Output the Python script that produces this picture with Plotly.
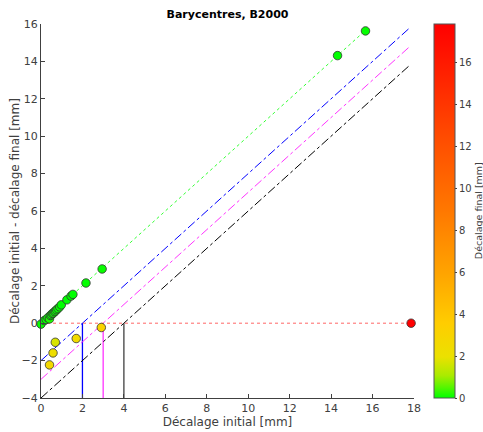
import numpy as np
import plotly.graph_objects as go

# Data
decalage_initial = [0.00, 0.16, 0.25, 0.33, 0.41, 0.45, 0.50, 0.55, 0.60, 0.65, 0.70,
                    0.75, 0.82, 0.90, 0.98, 1.25, 1.45, 1.54, 2.17, 2.95, 14.31, 15.66,
                    0.69, 1.70, 0.58, 0.41, 2.91, 17.86]
decalage_final = [0.05, 0.02, 0.05, 0.04, 0.18, 0.04, 0.05, 0.03, 0.06, 0.04, 0.05,
                  0.03, 0.04, 0.03, 0.00, 0.00, 0.00, 0.00, 0.02, 0.05, 0.00, 0.03,
                  1.71, 2.52, 2.17, 2.64, 3.14, 17.86]
seuils = [2, 3, 4]
seuil_couleurs = ["#0000ff", "#ff33ff", "#404040"]
x_max_lignes = 17.8
x_ticks = [0, 2, 4, 6, 8, 10, 12, 14, 16, 18]
y_ticks = [-4, -2, 0, 2, 4, 6, 8, 10, 12, 14, 16]
cb_ticks = [0, 2, 4, 6, 8, 10, 12, 14, 16]

xi = np.array(decalage_initial)
xf = np.array(decalage_final)
diff = xi - xf
cmax = float(xf.max())

colorscale = [
    [0.0, "rgb(0,255,0)"],
    [0.03, "rgb(90,245,0)"],
    [0.06, "rgb(170,235,0)"],
    [0.11, "rgb(235,225,0)"],
    [0.2, "rgb(255,205,0)"],
    [0.33, "rgb(255,165,0)"],
    [0.5, "rgb(255,120,0)"],
    [0.7, "rgb(255,75,0)"],
    [1.0, "rgb(255,0,0)"],
]

fig = go.Figure()

green_max = float(xi[xf < 0.5].max())
fig.add_trace(go.Scatter(x=[0, green_max], y=[0, green_max], mode="lines",
                         line=dict(color="#33ff33", dash="dot", width=1), showlegend=False, hoverinfo="skip"))
for s, c in zip(seuils, seuil_couleurs):
    col = "#000000" if s == 4 else c
    fig.add_trace(go.Scatter(x=[0, x_max_lignes], y=[-s, x_max_lignes - s], mode="lines",
                             line=dict(color=col, dash="dashdot", width=1), showlegend=False, hoverinfo="skip"))
    fig.add_trace(go.Scatter(x=[s, s], y=[-4, 0], mode="lines",
                             line=dict(color=c, width=1.3), showlegend=False, hoverinfo="skip"))

fig.add_trace(go.Scatter(x=[0, cmax], y=[0, 0], mode="lines",
                         line=dict(color="#ff6666", dash="dot", width=1), showlegend=False, hoverinfo="skip"))

fig.add_trace(go.Scatter(
    x=xi, y=diff, mode="markers", showlegend=False, cliponaxis=False,
    marker=dict(size=8.5, color=xf, cmin=0, cmax=cmax, colorscale=colorscale,
                line=dict(color="#333333", width=0.8),
                showscale=True,
                colorbar=dict(
                    x=1.0536, xanchor="left", xref="paper", xpad=0, ypad=0,
                    y=0.5, yanchor="middle", len=1.0, lenmode="fraction",
                    thickness=21, thicknessmode="pixels",
                    outlinewidth=1, outlinecolor="#555555",
                    tickvals=cb_ticks, ticks="outside", ticklen=2, tickcolor="#404040",
                    tickfont=dict(family="DejaVu Sans", size=10, color="#404040"),
                ))))

axis_common = dict(showgrid=False, zeroline=False, showline=True, linecolor="#404040", linewidth=1,
                   ticks="inside", ticklen=4, tickcolor="#404040", automargin=False,
                   tickfont=dict(family="DejaVu Sans", size=11, color="#404040"))

fig.update_layout(
    width=483, height=432,
    margin=dict(l=41, r=69, t=24, b=34, autoexpand=False),
    paper_bgcolor="white", plot_bgcolor="white",
    title=dict(text="<b>Barycentres, B2000</b>", x=0.5, xref="paper", xanchor="center",
               y=0.967, yanchor="middle",
               font=dict(family="DejaVu Sans", size=11, color="black")),
    xaxis=dict(range=[0, 18], tickvals=x_ticks,
               title=dict(text="Décalage initial [mm]", standoff=2,
                          font=dict(family="DejaVu Sans", size=12, color="#404040")),
               **axis_common),
    yaxis=dict(range=[-4, 16], tickvals=y_ticks, **axis_common),
    annotations=[
        dict(text="Décalage initial - décalage final [mm]", textangle=-90,
             xref="paper", yref="paper", x=-0.0697, y=0.5,
             xanchor="center", yanchor="middle", showarrow=False,
             font=dict(family="DejaVu Sans", size=12, color="#404040")),
        dict(text="Décalage final [mm]", textangle=-90,
             xref="paper", yref="paper", x=1.172, y=0.5,
             xanchor="center", yanchor="middle", showarrow=False,
             font=dict(family="DejaVu Sans", size=9.5, color="#404040")),
    ],
)

fig.write_html("out.html", post_script="document.body.style.margin='0';",
               config={"displayModeBar": False})
